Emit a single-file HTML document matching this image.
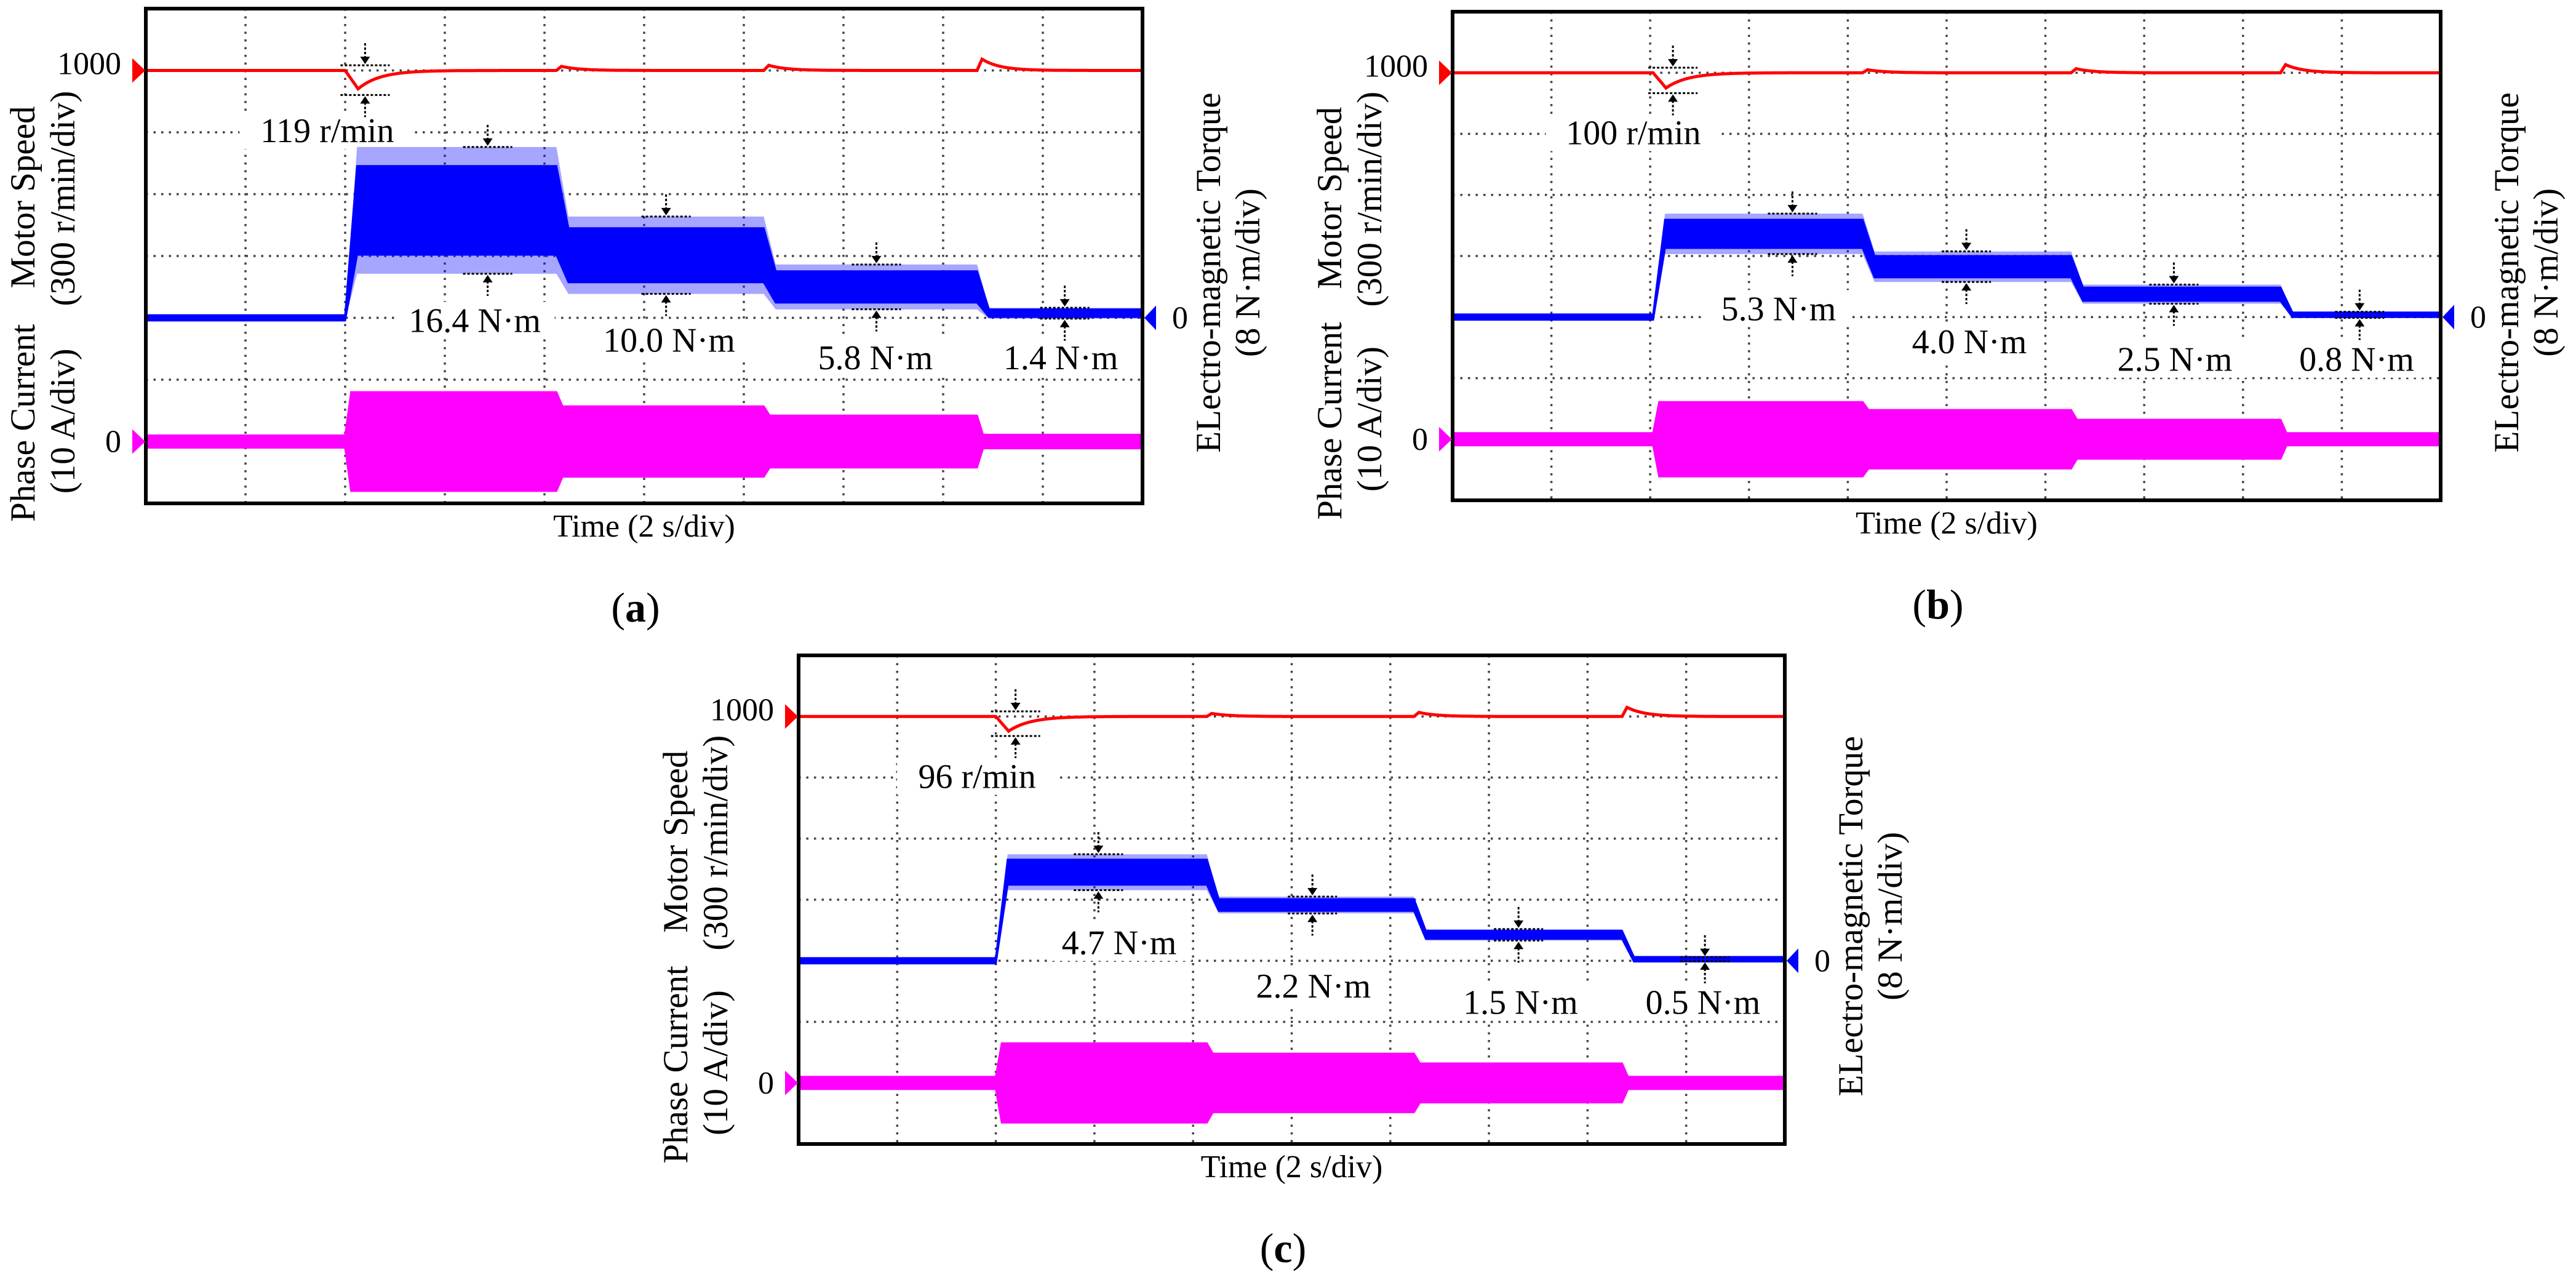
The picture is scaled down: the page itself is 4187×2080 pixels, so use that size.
<!DOCTYPE html>
<html>
<head>
<meta charset="utf-8">
<style>
html,body{margin:0;padding:0;background:#fff;}
svg{display:block;}
text{font-family:"Liberation Serif","Times New Roman",serif;fill:#000;}
</style>
</head>
<body>
<svg id="fig" xmlns="http://www.w3.org/2000/svg" width="4187" height="2080" viewBox="0 0 4187 2080">
<rect x="0" y="0" width="4187" height="2080" fill="#fff"/>
</svg>
<script>
// ---------- DATA (panel a) ----------
const stepTimesA = [2.0, 4.12, 6.2, 8.34];
const torqueMeanA = [13.9, 8.1, 4.0, 0.6];
const torqueRippleA = [16.4, 10.0, 5.8, 1.4];
const currentAmpA = [8.0, 5.7, 4.2, 1.1];
const baseCurrentA = 1.0;
const speedDipA = 119;
const speedBumpA = [20, 25, 55];
// ---------- DATA (panel b) ----------
const stepTimesB = [2.03, 4.15, 6.26, 8.38];
const torqueMeanB = [10.9, 6.6, 3.0, 0.3];
const torqueRippleB = [5.3, 4.0, 2.5, 0.8];
const currentAmpB = [6.1, 4.8, 3.2, 1.0];
const baseCurrentB = 1.0;
const speedDipB = 100;
const speedBumpB = [15, 20, 40];
// ---------- DATA (panel c) ----------
const stepTimesC = [2.0, 4.14, 6.24, 8.35];
const torqueMeanC = [11.6, 7.3, 3.4, 0.2];
const torqueRippleC = [4.7, 2.2, 1.5, 0.5];
const currentAmpC = [6.5, 4.8, 3.2, 1.0];
const baseCurrentC = 1.0;
const speedDipC = 96;
const speedBumpC = [15, 20, 45];
const speedRef = 1000;

// ---------- LAYOUT ----------
const layoutA = {id:'a', left:237, top:14, w:1620, h:804, annX:[3.3,5.25,7.32,9.18], annY:[5.04,5.36,5.64,5.64], markX:[3.43,5.22,7.33,9.22], spdLabel:[1.82,1.97]};
const layoutB = {id:'b', left:2361, top:19, w:1606, h:794, annX:[3.3,5.23,7.31,9.15], annY:[4.86,5.4,5.69,5.69], markX:[3.44,5.2,7.3,9.18], spdLabel:[1.83,1.98]};
const layoutC = {id:'c', left:1298, top:1065, w:1603, h:794, annX:[3.25,5.22,7.32,9.17], annY:[4.7,5.41,5.68,5.68], markX:[3.04,5.21,7.3,9.19], spdLabel:[1.81,1.98]};

const NS = 'http://www.w3.org/2000/svg';
const svg = document.getElementById('fig');
function mk(tag, attrs, parent){
  const el = document.createElementNS(NS, tag);
  for (const k in attrs) el.setAttribute(k, attrs[k]);
  (parent || svg).appendChild(el);
  return el;
}

function drawPanel(L, steps, mean, ripple, amp, base, dip, bump){
  const xd = L.w/10, yd = L.h/8;
  const x = t => L.left + t*xd;
  const yS = v => L.top + (1 + (speedRef - v)/300)*yd;
  const yT = T => L.top + (5 - T/8)*yd;
  const yI = I => L.top + (7 - I/10)*yd;

  const g = mk('g', {});
  
  

  const clipId = 'clip' + L.id;
  const cp = mk('clipPath', {id: clipId}, g);
  mk('rect', {x:L.left, y:L.top, width:L.w, height:L.h}, cp);

  const grid = mk('g', {stroke:'#444', 'stroke-width':3.5, 'stroke-dasharray':'3.5 9'}, g);
  
  
  for (let i=1;i<10;i++){
    const ln = mk('line', {x1:x(i), y1:L.top, x2:x(i), y2:L.top+L.h}, grid);
    
    
  }
  for (let j=1;j<8;j++){
    const ln = mk('line', {x1:L.left, y1:L.top+j*yd, x2:L.left+L.w, y2:L.top+j*yd}, grid);
    
    
  }
  const maskLayer = mk('g', {fill:'#fff'}, g);
  const traces = mk('g', {'clip-path':'url(#'+clipId+')'}, g);
  const textLayer = mk('g', {}, g);

  function bandPath(knots, yfun){
    let up = '', lo = [];
    knots.forEach((k,i)=>{ up += (i?'L':'M') + x(k[0]).toFixed(1) + ',' + yfun(k[1]+k[2]).toFixed(1); lo.push(x(k[0]).toFixed(1)+','+yfun(k[1]-k[2]).toFixed(1)); });
    return up + 'L' + lo.reverse().join('L') + 'Z';
  }
  const r = 0.12, ri = 0.06;

  const ik = [[0,0,base],[steps[0],0,base]];
  steps.forEach((t,i)=>{ ik.push([t+ri,0,amp[i]]); ik.push([i<3?steps[i+1]:10,0,amp[i]]); });
  const cur = mk('path', {d:bandPath(ik, yI), fill:'#ff00ff', stroke:'#ff00ff', 'stroke-width':3}, traces);
  
  

  function torqueKnots(frac){
    const k = [[0,0,0.35],[steps[0],0,0.35]];
    steps.forEach((t,i)=>{ const hw = Math.max(ripple[i]*frac, 0.3); k.push([t+r,mean[i],hw]); k.push([i<3?steps[i+1]:10,mean[i],hw]); });
    return k;
  }
  const tOut = mk('path', {d:bandPath(torqueKnots(0.5), yT), fill:'rgba(0,0,255,0.35)', stroke:'none'}, traces);
  
  
  const tCore = mk('path', {d:bandPath(torqueKnots(0.35), yT), fill:'#0000ff', stroke:'#0000ff', 'stroke-width':3}, traces);
  
  

  let d = '';
  for (let t=0; t<=10.001; t+=0.01){
    let v = speedRef;
    const t0 = steps[0];
    if (t>=t0){
      const dt = t - t0, m = dip*0.75;
      v -= dt < 0.13 ? m*dt/0.13 : m*Math.exp(-(dt-0.13)/0.22);
    }
    for (let i=1;i<4;i++){
      const dt = t - steps[i];
      if (dt>=0) v += dt < 0.05 ? bump[i-1]*dt/0.05 : bump[i-1]*Math.exp(-(dt-0.05)/0.18);
    }
    d += (d?'L':'M') + x(t).toFixed(1) + ',' + yS(v).toFixed(1);
  }
  const sp = mk('path', {d:d, fill:'none', stroke:'#ff0000', 'stroke-width':5}, traces);
  
  

  function marker(xc, yTop, yBot, name){
    const mg = mk('g', {stroke:'#000', fill:'#000'}, g);
    
    
    mk('line', {x1:xc-40, y1:yTop, x2:xc+40, y2:yTop, 'stroke-width':3, 'stroke-dasharray':'4 3'}, mg);
    mk('line', {x1:xc-40, y1:yBot, x2:xc+40, y2:yBot, 'stroke-width':3, 'stroke-dasharray':'4 3'}, mg);
    mk('line', {x1:xc, y1:yTop-36, x2:xc, y2:yTop-12, 'stroke-width':3, 'stroke-dasharray':'4 3'}, mg);
    mk('path', {d:`M${xc-8},${yTop-14}L${xc+8},${yTop-14}L${xc},${yTop-2}Z`, stroke:'none'}, mg);
    mk('line', {x1:xc, y1:yBot+12, x2:xc, y2:yBot+36, 'stroke-width':3, 'stroke-dasharray':'4 3'}, mg);
    mk('path', {d:`M${xc-8},${yBot+14}L${xc+8},${yBot+14}L${xc},${yBot+2}Z`, stroke:'none'}, mg);
  }
  function label(txt, xc, yc, name){
    const t = mk('text', {x:xc, y:yc+19, 'font-size':56, 'text-anchor':'middle'}, textLayer);
    t.textContent = txt;
    
    
    const w = txt.length*25;
    mk('rect', {x:xc-w/2-30, y:yc-30, width:w+60, height:60}, maskLayer);
  }
  marker(x(steps[0]+0.2), yS(speedRef+25), yS(speedRef-dip), 'speed-dip-marker');
  label(dip + ' r/min', x(L.spdLabel[0]), L.top+L.spdLabel[1]*yd, 'speed-dip-label');
  for (let i=0;i<4;i++){
    marker(x(L.markX[i]), yT(mean[i]+ripple[i]/2), yT(mean[i]-ripple[i]/2), 'torque-ripple-marker-' + (i+1));
    label(ripple[i].toFixed(1) + ' N·m', x(L.annX[i]), L.top+L.annY[i]*yd, 'torque-ripple-label-' + (i+1));
  }

  const border = mk('rect', {x:L.left, y:L.top, width:L.w, height:L.h, fill:'none', stroke:'#000', 'stroke-width':6}, g);
  
  

  const ys = yS(speedRef), yi = yI(0), yt = yT(0);
  const m1 = mk('path', {d:`M${L.left-22},${ys-20}L${L.left-1},${ys}L${L.left-22},${ys+20}Z`, fill:'#ff0000'}, g);
  
  
  const m2 = mk('path', {d:`M${L.left-22},${yi-20}L${L.left-1},${yi}L${L.left-22},${yi+20}Z`, fill:'#ff00ff'}, g);
  
  
  const R = L.left + L.w;
  const m3 = mk('path', {d:`M${R+22},${yt-20}L${R+3},${yt}L${R+22},${yt+20}Z`, fill:'#0000ff'}, g);
  
  

  const t1000 = mk('text', {x:L.left-40, y:ys+6, 'font-size':52, 'text-anchor':'end'}, g);
  t1000.textContent = '1000';
  
  
  const t0a = mk('text', {x:L.left-40, y:yi+17, 'font-size':52, 'text-anchor':'end'}, g);
  t0a.textContent = '0';
  
  
  const t0b = mk('text', {x:R+48, y:yt+17, 'font-size':52}, g);
  t0b.textContent = '0';
  
  

  function rot(txt, bx, cy, name){
    const t = mk('text', {transform:`translate(${bx},${cy}) rotate(-90)`, 'font-size':57, 'text-anchor':'middle'}, g);
    t.textContent = txt;
    
    
  }
  rot('Motor Speed', L.left-181, L.top+3.05*yd, 'speed-axis-title');
  rot('(300 r/min/div)', L.left-116, L.top+3.07*yd, 'speed-axis-scale');
  rot('Phase Current', L.left-181, L.top+6.7*yd, 'current-axis-title');
  rot('(10 A/div)', L.left-116, L.top+6.67*yd, 'current-axis-scale');
  rot('ELectro-magnetic Torque', R+126, L.top+4.27*yd, 'torque-axis-title');
  rot('(8 N·m/div)', R+190, L.top+4.27*yd, 'torque-axis-scale');

  const tl = mk('text', {x:L.left+L.w/2, y:L.top+L.h+54, 'font-size':52, 'text-anchor':'middle'}, g);
  tl.textContent = 'Time (2 s/div)';
  
  

  const cap = mk('text', {x:L.left+L.w/2-14, y:L.top+L.h+192, 'font-size':68, 'text-anchor':'middle'}, g);
  cap.innerHTML = '(<tspan font-weight="bold">' + L.id + '</tspan>)';
  
  
}

drawPanel(layoutA, stepTimesA, torqueMeanA, torqueRippleA, currentAmpA, baseCurrentA, speedDipA, speedBumpA);
drawPanel(layoutB, stepTimesB, torqueMeanB, torqueRippleB, currentAmpB, baseCurrentB, speedDipB, speedBumpB);
drawPanel(layoutC, stepTimesC, torqueMeanC, torqueRippleC, currentAmpC, baseCurrentC, speedDipC, speedBumpC);
</script>
</body>
</html>
